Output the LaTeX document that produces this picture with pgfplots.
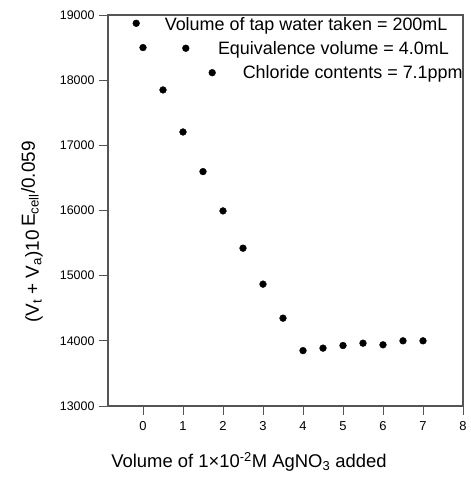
\documentclass[border=0pt]{standalone}
\usepackage{fontspec}
\setmainfont{Liberation Sans}
\usepackage{pgfplots}
\pgfplotsset{compat=1.18}
\definecolor{axgray}{RGB}{85,85,85}
\begin{document}
\begin{tikzpicture}
\path[use as bounding box] (-108bp,-76bp) rectangle (363bp,406bp);
\begin{axis}[
  at={(0,0)}, anchor=south west,
  scale only axis, width=355bp, height=391bp,
  xmin=-0.875, xmax=8, ymin=13000, ymax=19000,
  xtick={0,1,2,3,4,5,6,7,8},
  ytick={13000,14000,15000,16000,17000,18000,19000},
  scaled y ticks=false,
  /pgf/number format/assume math mode=true,
  yticklabel style={/pgf/number format/1000 sep={}, font=\fontsize{12.5}{13}\selectfont, xshift=-1bp},
  xticklabel style={font=\fontsize{13}{13}\selectfont, yshift=-3bp},
  tick align=outside, major tick length=9bp,
  xtick pos=bottom, ytick pos=left,
  axis line style={axgray, line width=1.4pt},
  every tick/.style={axgray, line width=1pt},
  clip=false,
]
\addplot[only marks, mark=*, mark size=3.4bp, black] coordinates {
(-0.17,18873) (0,18500) (0.5,17850) (1,17205) (1.07,18490) (1.5,16597) (1.73,18115)
(2,15994) (2.5,15422) (3,14870) (3.5,14348) (4,13850) (4.5,13888) (5,13928)
(5.5,13964) (6,13939) (6.5,14000) (7,14000)
};
\node[anchor=west, inner sep=0pt, font=\fontsize{18}{18}\selectfont] at (axis cs:0.54,18830) {Volume of tap water taken = 200mL};
\node[anchor=west, inner sep=0pt, font=\fontsize{18}{18}\selectfont] at (axis cs:1.87,18465) {Equivalence volume = 4.0mL};
\node[anchor=west, inner sep=0pt, font=\fontsize{18}{18}\selectfont] at (axis cs:2.49,18095) {Chloride contents = 7.1ppm};
\node[rotate=90, font=\fontsize{19}{19}\selectfont] at ([xshift=-76bp]rel axis cs:0,0.445) {(V\textsubscript{t} + V\textsubscript{a})10\,\raisebox{4bp}{E\textsubscript{cell}/0.059}};
\node[font=\fontsize{18.5}{18.5}\selectfont] at ([yshift=-56bp]rel axis cs:0.397,0) {Volume of 1×10\textsuperscript{-2}M AgNO\textsubscript{3} added};
\end{axis}
\end{tikzpicture}
\end{document}
